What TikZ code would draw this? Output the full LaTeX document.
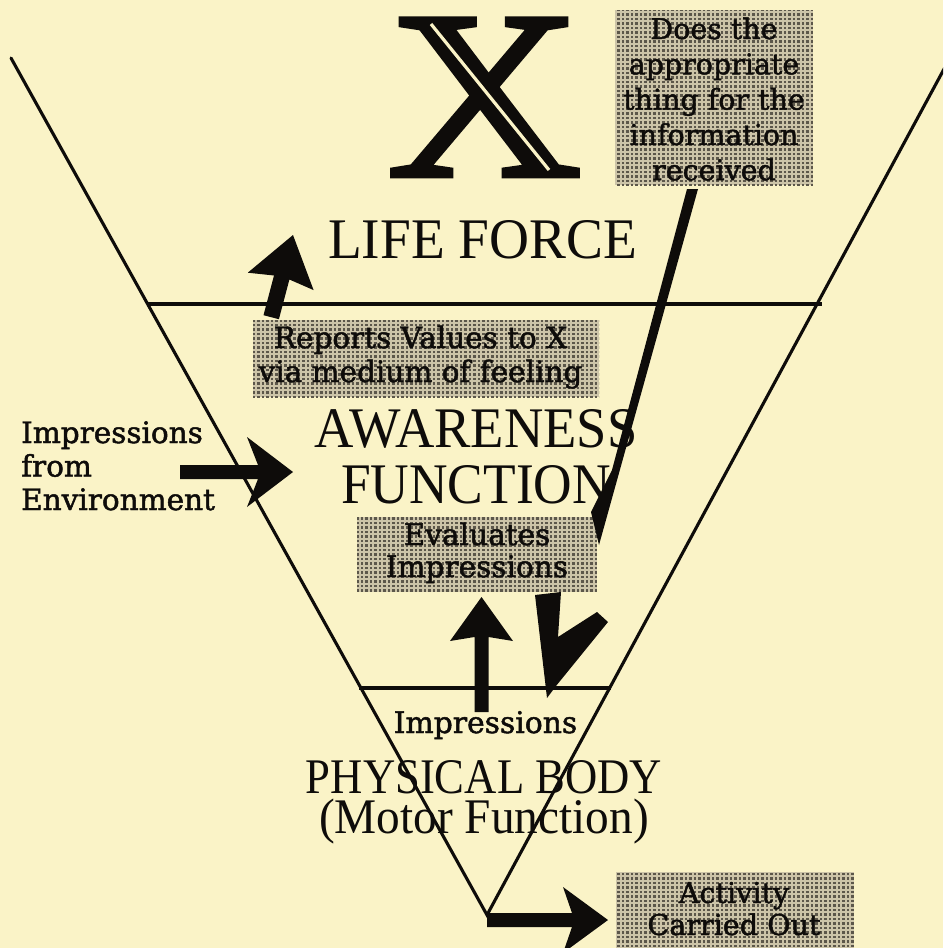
\documentclass[tikz,border=0pt]{standalone}
\usepackage{fontspec}
\usepackage{graphicx}
\usetikzlibrary{patterns}
\newfontfamily\smallf[FakeBold=1.6]{DejaVu Serif}
\newfontfamily\bigf{Liberation Serif}
\newfontfamily\xfont[FakeBold=2]{Liberation Serif}
\definecolor{paper}{RGB}{250,243,199}
\definecolor{boxfill}{RGB}{204,196,168}
\definecolor{boxdot}{RGB}{92,87,74}
\definecolor{ink}{RGB}{14,12,10}
\pgfdeclarepatternformonly{halftone}{\pgfqpoint{-1pt}{-1pt}}{\pgfqpoint{5.5pt}{5.5pt}}{\pgfqpoint{4.5pt}{4.5pt}}{%
  \pgfpathrectangle{\pgfqpoint{0.7pt}{0.7pt}}{\pgfqpoint{2.3pt}{2.3pt}}\pgfusepath{fill}}
\tikzset{
  vline/.style={draw=ink, line width=3.1pt, line cap=round},
  graybox/.style={rectangle, inner sep=0pt, draw=none, fill=boxfill,
    postaction={pattern=halftone, pattern color=boxdot}},
  smalltxt/.style={inner sep=0pt, anchor=base, text=ink},
  bigtxt/.style={inner sep=0pt, anchor=base, text=ink},
  blockarrow/.style={fill=ink, draw=none},
}
\begin{document}
\begin{tikzpicture}[x=1pt,y=-1pt]
\fill[paper] (0,0) rectangle (943,948);
\useasboundingbox (0,0) rectangle (943,948);
\begin{scope}
\clip (0,0) rectangle (943,948);
% V outline
\coordinate (vl) at (11,58);
\coordinate (vb) at (487,915);
\coordinate (vr) at (950.5,57);
\draw[vline] (vl) -- (vb) -- (vr);
% horizontal dividers
\coordinate (h1l) at (147,304);
\coordinate (h1r) at (822,304);
\coordinate (h2l) at (359,688);
\coordinate (h2r) at (611,688);
\draw[vline, line cap=butt] (h1l) -- (h1r);
\draw[vline, line cap=butt] (h2l) -- (h2r);

% grey boxes
\node[graybox, minimum width=198pt, minimum height=175pt] (doesbox) at (714,97.5) {};
\node[graybox, minimum width=346pt, minimum height=77pt] (repbox) at (426,358.5) {};
\node[graybox, minimum width=240pt, minimum height=75pt] (evalbox) at (477,554.5) {};
\node[graybox, minimum width=238pt, minimum height=90pt] (actbox) at (735,917) {};

% small texts
\node[smalltxt, font=\smallf\fontsize{28.5}{35.3}\selectfont] (doestxt) at (714,39)
  {\begin{tabular}[t]{@{}c@{}}Does the\\ appropriate\\ thing for the\\ information\\ received\end{tabular}};
\node[smalltxt, font=\smallf\fontsize{29.5}{34}\selectfont] (reptxt) at (420.5,348)
  {\begin{tabular}[t]{@{}c@{}}Reports Values to X\\ via medium of feeling\end{tabular}};
\node[smalltxt, anchor=base west, font=\smallf\fontsize{29.5}{33.5}\selectfont] (envtxt) at (21,443)
  {\begin{tabular}[t]{@{}l@{}}Impressions\\ from\\ Environment\end{tabular}};
\node[smalltxt, font=\smallf\fontsize{29.6}{32}\selectfont] (evaltxt) at (477,545)
  {\begin{tabular}[t]{@{}c@{}}Evaluates\\ Impressions\end{tabular}};
\node[smalltxt, font=\smallf\fontsize{29.8}{32}\selectfont] (imptxt) at (485.5,733) {Impressions};
\node[smalltxt, font=\smallf\fontsize{28.6}{32}\selectfont] (acttxt) at (734,903)
  {\begin{tabular}[t]{@{}c@{}}Activity\\ Carried Out\end{tabular}};

% big texts
\node[bigtxt] (xlabel) at (484.5,176) {\xfont\fontsize{240}{240}\selectfont\scalebox{1.127}[1]{X}};
\draw[paper, line width=3.2pt] (431,24) -- (549,170);
\node[bigtxt] (lifeforce) at (482.5,258) {\bigf\fontsize{57.4}{60}\selectfont\scalebox{0.964}[1]{LIFE FORCE}};
\node[bigtxt] (awarefunc) at (476,447) {\bigf\fontsize{57.4}{56}\selectfont\lineskiplimit=-100pt
  \vtop{\halign{\hfil#\hfil\cr\scalebox{0.95}[1]{AWARENESS}\cr\scalebox{0.93}[1]{FUNCTION}\cr}}};
\node[bigtxt] (physmotor) at (484,793) {\bigf\fontsize{49.8}{40}\selectfont\lineskiplimit=-100pt
  \vtop{\halign{\hfil#\hfil\cr\scalebox{0.897}[1]{PHYSICAL BODY}\cr\scalebox{0.95}[1]{(Motor Function)}\cr}}};

% block arrows
% to LIFE FORCE
\fill[blockarrow] (293,235) -- (247.8,272.7) -- (274,275.5) -- (263.5,315.2)
  -- (278.9,319.2) -- (289.4,279.5) -- (313.6,290.1) -- cycle;
% impressions from environment
\fill[blockarrow] (293,472) -- (247,437) -- (258,465) -- (180,465) -- (180,479)
  -- (258,479) -- (247,507) -- cycle;
% activity carried out
\fill[blockarrow] (608,920) -- (563,887) -- (572,913) -- (487,913) -- (487,927)
  -- (572,927) -- (563,953) -- cycle;
% long arrow from "Does" box
\fill[blockarrow] (687,189) -- (698,189) -- (599,545) -- (591,512) -- (612,470) -- cycle;
% up arrow to Evaluates box
\fill[blockarrow] (481.5,597) -- (450,641) -- (474.5,637) -- (474.5,712) -- (488.5,712)
  -- (488.5,637) -- (513,641) -- cycle;
% down harpoon
\fill[blockarrow] (535,595) -- (561,592) -- (558,637) -- (597,612) -- (608,622)
  -- (556,686) -- (547,698) -- cycle;
\end{scope}
\end{tikzpicture}
\end{document}
